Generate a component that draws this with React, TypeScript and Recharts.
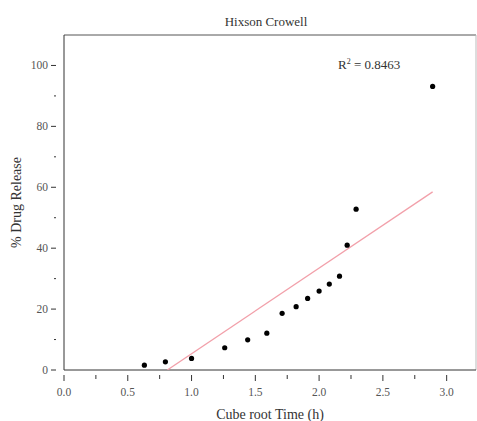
import React from 'react';
import { ScatterChart, Scatter, XAxis, YAxis, ReferenceLine, Label } from 'recharts';

const cubeRootTime = [0.63, 0.795, 1.0, 1.26, 1.44, 1.59, 1.71, 1.82, 1.91, 2.0, 2.08, 2.16, 2.22, 2.29, 2.89];
const drugRelease = [1.6, 2.7, 3.8, 7.3, 9.9, 12.1, 18.6, 20.8, 23.5, 25.9, 28.2, 30.8, 41.0, 52.8, 93.1];
const fitX = [0.81, 2.89];
const fitY = [0.0, 58.5];
const xTicks = [0, 0.25, 0.5, 0.75, 1, 1.25, 1.5, 1.75, 2, 2.25, 2.5, 2.75, 3];
const yTicks = [0, 10, 20, 30, 40, 50, 60, 70, 80, 90, 100, 110];

const points = cubeRootTime.map((x, i) => ({ x, y: drugRelease[i] }));
const fitLine = fitX.map((x, i) => ({ x, y: fitY[i] }));

const FONT = '"Liberation Serif", "DejaVu Serif", serif';

const XTick = ({ x, y, payload }: any) => {
    const major = Math.abs((payload.value * 2) % 1) < 1e-6;
    return (
        <g>
            <line x1={x} x2={x} y1={y - 3} y2={y + (major ? 3 : 1)} stroke="#333" />
            {major && (
                <text x={x} y={y + 18} textAnchor="middle" fontSize={11.5} fill="#555" fontFamily={FONT}>
                    {payload.value.toFixed(1)}
                </text>
            )}
        </g>
    );
};

const YTick = ({ x, y, payload }: any) => {
    const major = payload.value % 20 === 0 && payload.value <= 100;
    if (payload.value > 100) return <g />;
    return (
        <g>
            <line x1={x - (major ? 5 : 2)} x2={x} y1={y} y2={y} stroke="#333" />
            {major && (
                <text x={x - 8} y={y + 4} textAnchor="end" fontSize={11.5} fill="#555" fontFamily={FONT}>
                    {payload.value}
                </text>
            )}
        </g>
    );
};

const NoShape = () => <g />;

export default function App() {
    return (
        <div style={{ position: 'absolute', left: 0, top: 0, width: 477, height: 421, background: '#fff' }}>
            <div style={{ position: 'absolute', left: 0, width: 532, top: 14, textAlign: 'center', fontFamily: FONT, fontSize: 13, color: '#333' }}>
                Hixson Crowell
            </div>
            <div style={{ position: 'absolute', left: 338, top: 57, fontFamily: FONT, fontSize: 13, color: '#333' }}>
                R<sup style={{ fontSize: 8 }}>2</sup> = 0.8463
            </div>
            <ScatterChart width={477} height={421} margin={{ top: 35, right: 1, bottom: 0, left: 0 }}>
                <XAxis
                    type="number"
                    dataKey="x"
                    domain={[0, 3.23]}
                    ticks={xTicks}
                    tick={<XTick />}
                    tickLine={false}
                    axisLine={{ stroke: '#333' }}
                    height={51}
                    allowDataOverflow
                >
                    <Label value="Cube root Time (h)" position="insideBottom" offset={2} fontSize={14} fill="#333" fontFamily={FONT} />
                </XAxis>
                <YAxis
                    type="number"
                    dataKey="y"
                    domain={[0, 110]}
                    ticks={yTicks}
                    tick={<YTick />}
                    tickLine={false}
                    axisLine={{ stroke: '#333' }}
                    width={64}
                    allowDataOverflow
                >
                    <Label value="% Drug Release" angle={-90} position="insideLeft" offset={16} fontSize={14} fill="#333" fontFamily={FONT} style={{ textAnchor: 'middle' }} />
                </YAxis>
                <ReferenceLine y={110} stroke="#555" />
                <ReferenceLine x={3.23} stroke="#bbb" />
                <Scatter data={fitLine} line={{ stroke: '#f2a0aa', strokeWidth: 1.3 }} shape={<NoShape />} isAnimationActive={false} />
                <Scatter data={points} fill="#000" shape={(p: any) => <circle cx={p.cx} cy={p.cy} r={2.6} fill="#000" />} isAnimationActive={false} />
            </ScatterChart>
        </div>
    );
}
